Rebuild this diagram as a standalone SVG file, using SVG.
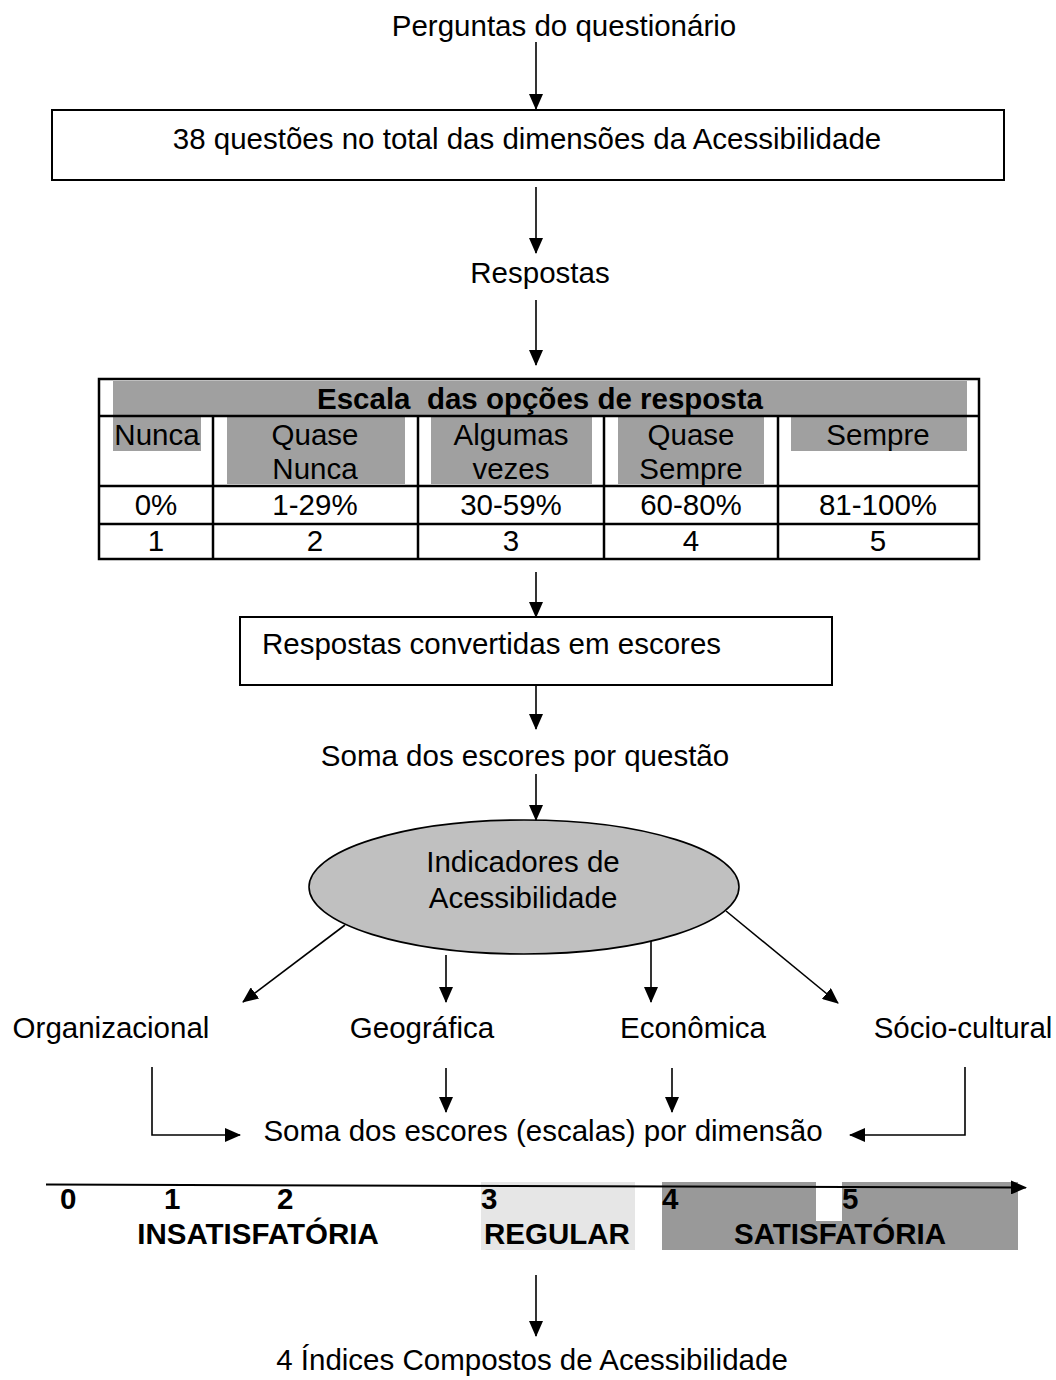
<svg xmlns="http://www.w3.org/2000/svg" width="1056" height="1380" viewBox="0 0 1056 1380">
<defs>
<marker id="ah" markerUnits="userSpaceOnUse" markerWidth="16" markerHeight="14" refX="15" refY="7" orient="auto">
<path d="M0,0 L16,7 L0,14 Z" fill="#000"/>
</marker>
<style>
text{font-family:"Liberation Sans",Arial,sans-serif;font-size:29.5px;fill:#000}
.c{text-anchor:middle}
.b{font-weight:bold}
.box{fill:#fff;stroke:#000;stroke-width:2}
.ln{fill:none;stroke:#000;stroke-width:1.6}
.ar{fill:none;stroke:#000;stroke-width:1.6;marker-end:url(#ah)}
.g{fill:#a0a0a0}
.tl{stroke:#000;stroke-width:2.5}
</style>
</defs>
<rect width="1056" height="1380" fill="#fff"/>

<g id="perguntas"><text class="c" x="564" y="36">Perguntas do questionário</text></g>

<g id="questoes">
<rect class="box" x="52" y="110" width="952" height="70"/>
<text class="c" x="527" y="149">38 questões no total das dimensões da Acessibilidade</text>
</g>

<g id="respostas"><text class="c" x="540" y="283">Respostas</text></g>

<g id="escala">
<rect class="g" x="113" y="381" width="854" height="35"/>
<rect class="g" x="113" y="416" width="88" height="35"/>
<rect class="g" x="227" y="416" width="178" height="68"/>
<rect class="g" x="431" y="416" width="161" height="68"/>
<rect class="g" x="618" y="416" width="146" height="68"/>
<rect class="g" x="791" y="416" width="176" height="35"/>
<rect x="99" y="379" width="880" height="180" fill="none" stroke="#000" stroke-width="2.5"/>
<line class="tl" x1="99" y1="416" x2="979" y2="416"/>
<line class="tl" x1="99" y1="486" x2="979" y2="486"/>
<line class="tl" x1="99" y1="524" x2="979" y2="524"/>
<line class="tl" x1="213" y1="416" x2="213" y2="559"/>
<line class="tl" x1="418" y1="416" x2="418" y2="559"/>
<line class="tl" x1="604" y1="416" x2="604" y2="559"/>
<line class="tl" x1="778" y1="416" x2="778" y2="559"/>
<text class="c b" x="540" y="409">Escala&#160; das opções de resposta</text>
<text class="c" x="157" y="445">Nunca</text>
<text class="c" x="315" y="445">Quase</text>
<text class="c" x="315" y="479">Nunca</text>
<text class="c" x="511" y="445">Algumas</text>
<text class="c" x="511" y="479">vezes</text>
<text class="c" x="691" y="445">Quase</text>
<text class="c" x="691" y="479">Sempre</text>
<text class="c" x="878" y="445">Sempre</text>
<text class="c" x="156" y="515">0%</text>
<text class="c" x="315" y="515">1-29%</text>
<text class="c" x="511" y="515">30-59%</text>
<text class="c" x="691" y="515">60-80%</text>
<text class="c" x="878" y="515">81-100%</text>
<text class="c" x="156" y="551">1</text>
<text class="c" x="315" y="551">2</text>
<text class="c" x="511" y="551">3</text>
<text class="c" x="691" y="551">4</text>
<text class="c" x="878" y="551">5</text>
</g>

<g id="convertidas">
<rect class="box" x="240" y="617" width="592" height="68"/>
<text x="262" y="654">Respostas convertidas em escores</text>
</g>

<g id="soma-questao"><text class="c" x="525" y="766">Soma dos escores por questão</text></g>

<g id="indicadores">
<ellipse cx="524" cy="887" rx="215" ry="67" fill="#c0c0c0" stroke="#000" stroke-width="1.6"/>
<text class="c" x="523" y="872">Indicadores de</text>
<text class="c" x="523" y="908">Acessibilidade</text>
</g>

<g id="organizacional"><text class="c" x="111" y="1038">Organizacional</text></g>
<g id="geografica"><text class="c" x="422" y="1038">Geográfica</text></g>
<g id="economica"><text class="c" x="693" y="1038">Econômica</text></g>
<g id="sociocultural"><text class="c" x="963" y="1038">Sócio-cultural</text></g>

<g id="soma-dimensao"><text class="c" x="543" y="1141">Soma dos escores (escalas) por dimensão</text></g>

<g id="escala-classificacao">
<rect x="481" y="1182" width="154" height="68" fill="#e6e6e6"/>
<rect x="662" y="1182" width="356" height="68" fill="#999"/>
<rect x="816" y="1182" width="26" height="39" fill="#fff"/>
<line x1="46" y1="1184.5" x2="1026" y2="1187.5" stroke="#000" stroke-width="2" marker-end="url(#ah)"/>
<text class="b" x="60" y="1209">0</text>
<text class="b" x="164" y="1209">1</text>
<text class="b" x="277" y="1209">2</text>
<text class="b" x="481" y="1209">3</text>
<text class="b" x="662" y="1209">4</text>
<text class="b" x="842" y="1209">5</text>
<text class="c b" x="258" y="1244">INSATISFATÓRIA</text>
<text class="b" x="484" y="1244">REGULAR</text>
<text class="c b" x="840" y="1244">SATISFATÓRIA</text>
</g>

<g id="indices"><text class="c" x="532" y="1370">4 Índices Compostos de Acessibilidade</text></g>

<g id="connectors">
<line class="ar" x1="536" y1="42" x2="536" y2="109"/>
<line class="ar" x1="536" y1="187" x2="536" y2="253"/>
<line class="ar" x1="536" y1="300" x2="536" y2="365"/>
<line class="ar" x1="536" y1="572" x2="536" y2="617"/>
<line class="ar" x1="536" y1="685" x2="536" y2="729"/>
<line class="ar" x1="536" y1="774" x2="536" y2="820"/>
<line class="ar" x1="345" y1="925" x2="243" y2="1002"/>
<line class="ar" x1="446" y1="955" x2="446" y2="1002"/>
<line class="ar" x1="651" y1="941" x2="651" y2="1002"/>
<line class="ar" x1="726" y1="911" x2="838" y2="1003"/>
<polyline class="ar" points="152,1067 152,1135 240,1135"/>
<line class="ar" x1="446" y1="1068" x2="446" y2="1112"/>
<line class="ar" x1="672" y1="1068" x2="672" y2="1112"/>
<polyline class="ar" points="965,1067 965,1135 850,1135"/>
<line class="ar" x1="536" y1="1275" x2="536" y2="1336"/>
</g>
</svg>
